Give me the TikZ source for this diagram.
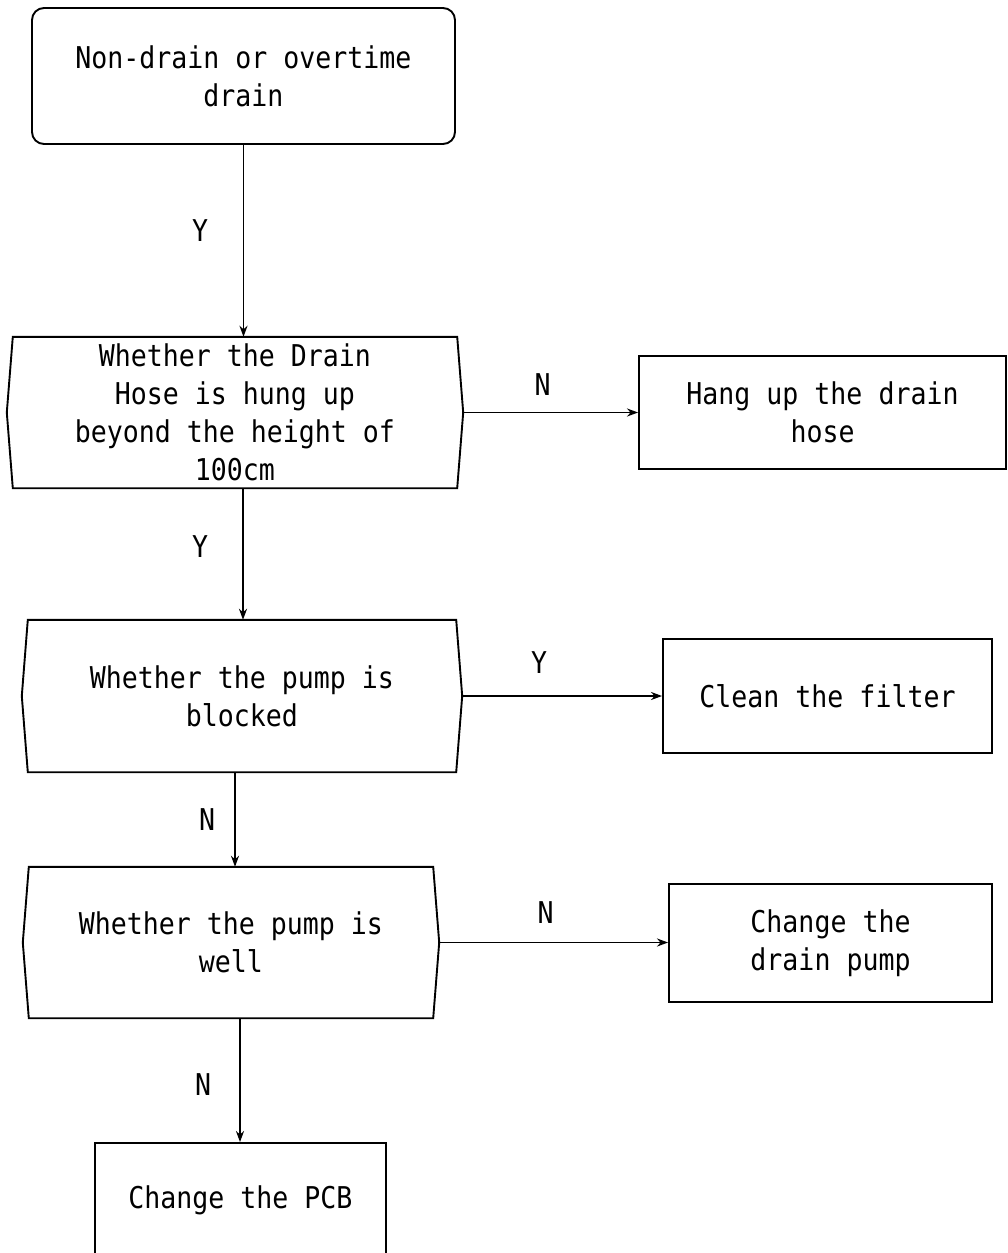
\documentclass[tikz,border=0pt]{standalone}
\usepackage{fontspec}
\setmainfont{DejaVu Sans Mono}[FakeStretch=0.886]
\usetikzlibrary{arrows.meta}
\newcommand\hexdraw[1]{\draw[edge] (#1.north west) -- (#1.north east) -- ([xshift=6pt]#1.east) -- (#1.south east) -- (#1.south west) -- ([xshift=-6pt]#1.west) -- cycle;}
\begin{document}
\begin{tikzpicture}[x=1pt,y=-1pt,
 edge/.style={line width=1.9pt, line join=miter},
 txt/.style={inner sep=0pt, align=center, font=\fontsize{30pt}{38pt}\selectfont},
 box/.style={txt, draw, line width=1.9pt},
 lbl/.style={inner sep=0pt, font=\fontsize{30pt}{38pt}\selectfont},
 arr/.style={line width=1.8pt, -{Stealth[length=11pt,width=8pt,inset=3.5pt]}}]
\fill[white] (0,0) rectangle (1007,1253);
\useasboundingbox (0,0) rectangle (1007,1253);

\node[box, rounded corners=12pt, minimum width=423pt, minimum height=136pt] (start) at (243.5,76) {Non-drain or overtime\\drain};
\node[txt, minimum width=444pt, minimum height=151pt] (h1) at (235,412.5) {Whether the Drain\\Hose is hung up\\beyond the height of\\100cm};
\node[txt, minimum width=428pt, minimum height=152pt] (h2) at (242,696) {Whether the pump is\\blocked};
\node[txt, minimum width=404pt, minimum height=151pt] (h3) at (231,942.5) {Whether the pump is\\well};
\node[box, minimum width=367pt, minimum height=113pt] (b1) at (822.5,412.5) {Hang up the drain\\hose};
\node[box, minimum width=329pt, minimum height=114pt] (b2) at (827.5,696) {Clean the filter};
\node[box, minimum width=323pt, minimum height=118pt] (b3) at (830.5,943) {Change the\\drain pump};
\node[box, minimum width=291pt, minimum height=114pt] (b4) at (240.5,1200) {Change the PCB};

\hexdraw{h1}
\hexdraw{h2}
\hexdraw{h3}

\draw[arr] (start.south) -- (start.south |- h1.north) node[lbl, pos=0.446, xshift=-43.5pt] (l1) {Y};
\draw[arr] ([xshift=8pt]h1.south) -- ([xshift=8pt]h1.south |- h2.north) node[lbl, pos=0.447, xshift=-43pt] (l2) {Y};
\draw[arr] ([xshift=6pt]h1.east) -- (h1.east -| b1.west) node[lbl, pos=0.4545, yshift=28pt] (l3) {N};
\draw[arr] ([xshift=-7pt]h2.south) -- ([xshift=-7pt]h2.south |- h3.north) node[lbl, pos=0.505, xshift=-28pt] (l4) {N};
\draw[arr] ([xshift=6pt]h2.east) -- (h2.east -| b2.west) node[lbl, pos=0.385, yshift=33pt] (l5) {Y};
\draw[arr] ([xshift=6pt]h3.east) -- (h3.east -| b3.west) node[lbl, pos=0.465, yshift=30pt] (l6) {N};
\draw[arr] ([xshift=9pt]h3.south) -- ([xshift=9pt]h3.south |- b4.north) node[lbl, pos=0.536, xshift=-37pt] (l7) {N};
\end{tikzpicture}
\end{document}
